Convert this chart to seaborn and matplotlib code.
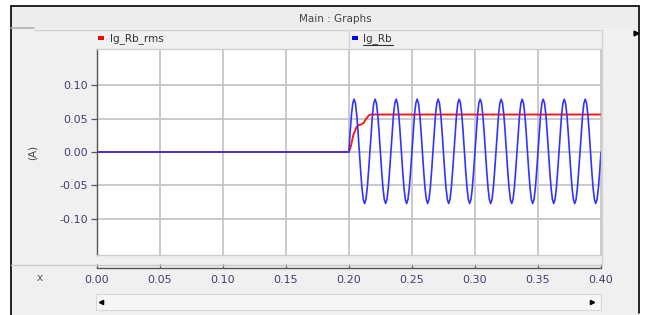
import numpy as np
import pandas as pd
import matplotlib
matplotlib.use("Agg")
import matplotlib.pyplot as plt
import seaborn as sns
from matplotlib.patches import Rectangle
from matplotlib.lines import Line2D

# =========================
# Data
# =========================
x_ticks = [0.00, 0.05, 0.10, 0.15, 0.20, 0.25, 0.30, 0.35, 0.40]
y_ticks = [-0.10, -0.05, 0.00, 0.05, 0.10]

# Ig_Rb_rms : zero, then ramps up after the fault at 0.2 s
t_rms = [0.0, 0.200, 0.2015, 0.2035, 0.2060, 0.2075, 0.2095, 0.2115, 0.2135, 0.2160, 0.2175, 0.400]
v_rms = [0.0, 0.000, 0.008, 0.025, 0.037, 0.040, 0.041, 0.043, 0.049, 0.055, 0.056, 0.056]

# Ig_Rb : zero before 0.2 s, then 12 cycles of 60 Hz
t_on = 0.2
freq = 60
n_cycles = 12
cycle_samples = [0.000, 0.030, 0.056, 0.073, 0.079, 0.073, 0.056, 0.030,
                 0.000, -0.029, -0.054, -0.071, -0.077, -0.071, -0.054, -0.029]

n = len(cycle_samples)
t_wave = np.concatenate([[0.0], t_on + np.arange(n * n_cycles + 1) / (n * freq)])
v_wave = np.concatenate([[0.0], np.tile(cycle_samples, n_cycles), [0.0]])

df_rms = pd.DataFrame({"t": t_rms, "v": v_rms})
df_wave = pd.DataFrame({"t": t_wave, "v": v_wave})

# =========================
# Figure / window frame
# =========================
sns.set_style("white")
plt.rcParams["font.family"] = ["DejaVu Sans"]

W, H = 646, 315
fig = plt.figure(figsize=(W / 100, H / 100), dpi=100, facecolor="white")


def fx(x):
    return x / W


def fy(y):
    return 1 - y / H


def hline(y, x0, x1, color, lw=1.0):
    fig.add_artist(Line2D([fx(x0), fx(x1)], [fy(y), fy(y)], color=color, lw=lw))


def vline(x, y0, y1, color, lw=1.0):
    fig.add_artist(Line2D([fx(x), fx(x)], [fy(y0), fy(y1)], color=color, lw=lw))


# window background
fig.add_artist(Rectangle((fx(11), fy(315)), fx(639) - fx(11), fy(6) - fy(315),
                         facecolor="#f0f0f0", edgecolor="none", zorder=0))
fig.add_artist(Rectangle((fx(11), fy(28)), fx(639) - fx(11), fy(6) - fy(28),
                         facecolor="#ededed", edgecolor="none", zorder=0))
hline(6, 11, 639, "black", 1.2)
vline(11, 6, 315, "black", 1.2)
vline(639, 6, 313, "black", 1.2)
hline(28, 11, 34, "#b0b0b0", 1.2)
hline(29.5, 34, 602, "#d4d4d4", 1.0)
vline(349, 29.5, 48, "#d4d4d4", 1.0)
vline(602, 29.5, 265, "#d4d4d4", 1.0)
hline(265, 11, 602, "#c8c8c8", 1.0)

fig.text(fx(335), fy(19), "Main : Graphs", ha="center", va="center",
         fontsize=7.5, color="#444444")
fig.add_artist(Line2D([fx(636)], [fy(33)], marker=">", ms=3.5, color="black", lw=0))

# legend strip
fig.add_artist(Rectangle((fx(97.5), fy(40)), fx(6), fy(36) - fy(40),
                         facecolor="#ff0000", edgecolor="none"))
fig.text(fx(110), fy(38.5), "Ig_Rb_rms", ha="left", va="center", fontsize=7.5, color="#333333")
fig.add_artist(Rectangle((fx(352), fy(40)), fx(6), fy(36) - fy(40),
                         facecolor="#0000ff", edgecolor="none"))
fig.text(fx(363), fy(38.5), "Ig_Rb", ha="left", va="center", fontsize=7.5, color="#333333")
hline(44.5, 363, 393, "#333333", 0.8)

# =========================
# Main plot area
# =========================
ax = fig.add_axes([fx(96.7), fy(255), (601 - 96.7) / W, (255 - 49) / H])
ax.set_facecolor("white")

ax.set_xlim(0.0, 0.4)
ax.set_ylim(-0.154, 0.154)
ax.set_xticks(x_ticks)
ax.set_yticks(y_ticks)
ax.grid(True, color="#c6c6c6", lw=1.3)
ax.set_axisbelow(True)

sns.lineplot(data=df_rms, x="t", y="v", ax=ax, color="#ff1a1a", lw=1.4,
             estimator=None, sort=False)
sns.lineplot(data=df_wave, x="t", y="v", ax=ax, color="#3333ff", lw=1.2,
             estimator=None, sort=False)

ax.set_xlabel("")
ax.set_ylabel("")
ax.tick_params(axis="x", bottom=False, labelbottom=False)
ax.tick_params(axis="y", left=True, direction="out", length=4, width=0.9,
               color="#555555", labelsize=8, labelcolor="#3f3f72", pad=2)
ax.set_yticklabels([f"{v:.2f}" for v in y_ticks])
for side in ["top", "right", "bottom"]:
    ax.spines[side].set_color("#cccccc")
    ax.spines[side].set_linewidth(0.9)
ax.spines["left"].set_color("#555555")
ax.spines["left"].set_linewidth(1.0)

fig.text(fx(33), fy(152), "(A)", rotation=90, ha="center", va="center",
         fontsize=7.5, color="#444444")

# =========================
# Separate x axis strip
# =========================
axx = fig.add_axes([fx(96.7), fy(268), (601 - 96.7) / W, 0.0001])
axx.set_facecolor("none")
axx.set_xlim(0.0, 0.4)
axx.set_yticks([])
axx.set_xticks(x_ticks)
axx.set_xticklabels([f"{v:.2f}" for v in x_ticks])
for side in ["top", "right", "left"]:
    axx.spines[side].set_visible(False)
axx.spines["bottom"].set_color("#555555")
axx.spines["bottom"].set_linewidth(1.0)
axx.tick_params(axis="x", bottom=True, direction="in", length=3, width=0.9,
                color="#555555", labelsize=8, labelcolor="#3f3f72", pad=5)

fig.text(fx(40), fy(278), "x", ha="center", va="center", fontsize=7.5, color="#555555")

# scroll bar
fig.add_artist(Rectangle((fx(96), fy(310)), fx(601) - fx(96), fy(294) - fy(310),
                         facecolor="#f6f6f6", edgecolor="#d8d8d8", lw=0.8))
fig.add_artist(Line2D([fx(101)], [fy(302)], marker="<", ms=3, color="black", lw=0))
fig.add_artist(Line2D([fx(592)], [fy(302)], marker=">", ms=3, color="black", lw=0))

fig.savefig("out.png", dpi=100, facecolor=fig.get_facecolor())
